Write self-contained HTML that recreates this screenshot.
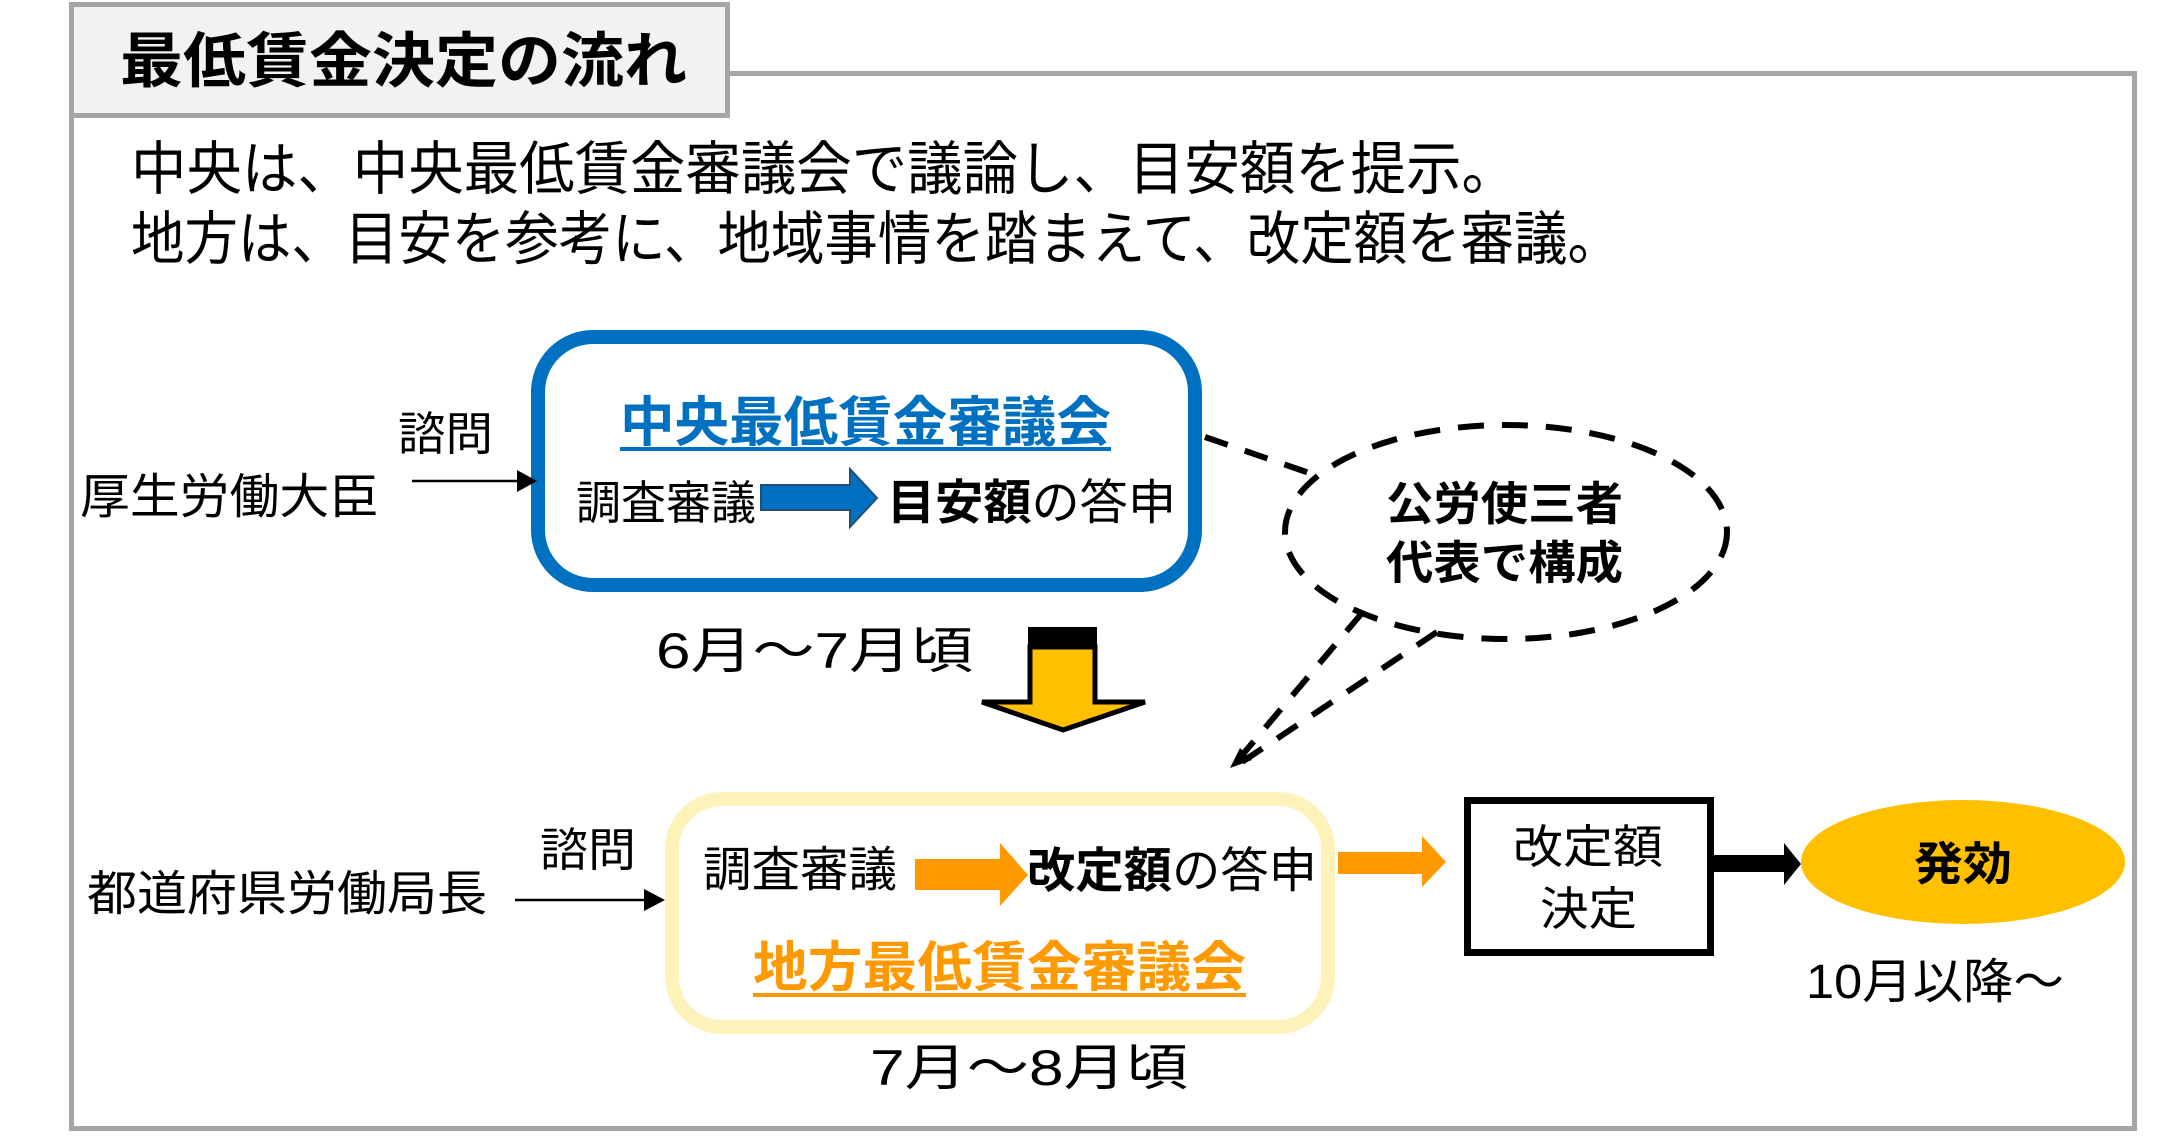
<!DOCTYPE html>
<html><head><meta charset="utf-8"><style>
html,body{margin:0;padding:0;background:#fff;}
svg{display:block;}
text{font-family:"Liberation Sans","Noto Sans CJK JP",sans-serif;}
</style></head><body>
<svg width="2180" height="1145" viewBox="0 0 2180 1145" xmlns="http://www.w3.org/2000/svg">
<rect x="0" y="0" width="2180" height="1145" fill="#fff"/>
<rect x="71.5" y="73.5" width="2063" height="1055" fill="none" stroke="#A6A6A6" stroke-width="5"/>
<rect x="71.5" y="4.5" width="656" height="111" fill="#F2F2F2" stroke="#A6A6A6" stroke-width="5"/>
<text x="120" y="82" font-size="60" font-weight="bold" textLength="567" lengthAdjust="spacingAndGlyphs">最低賃金決定の流れ</text>

<text x="131" y="189" font-size="58" textLength="1386" lengthAdjust="spacingAndGlyphs">中央は、中央最低賃金審議会で議論し、目安額を提示。</text>
<text x="131" y="259" font-size="58" textLength="1490" lengthAdjust="spacingAndGlyphs">地方は、目安を参考に、地域事情を踏まえて、改定額を審議。</text>

<rect x="538" y="337" width="657" height="248" rx="55" fill="#fff" stroke="#0070C0" stroke-width="14"/>
<text x="620" y="441" font-size="54" font-weight="bold" fill="#0070C0" textLength="491" lengthAdjust="spacingAndGlyphs">中央最低賃金審議会</text>
<rect x="620" y="447" width="491" height="4" fill="#0070C0"/>
<text x="576" y="519" font-size="46" textLength="180" lengthAdjust="spacingAndGlyphs">調査審議</text>
<polygon points="761,485 850,485 850,469 877,498 850,527 850,510 761,510" fill="#0070C0" stroke="#1F4E79" stroke-width="2"/>
<text x="887" y="519" font-size="48" textLength="289" lengthAdjust="spacingAndGlyphs"><tspan font-weight="bold">目安額</tspan>の答申</text>

<text x="398" y="450" font-size="46" textLength="95" lengthAdjust="spacingAndGlyphs">諮問</text>
<text x="80" y="513" font-size="48" textLength="299" lengthAdjust="spacingAndGlyphs">厚生労働大臣</text>
<line x1="412" y1="481" x2="520" y2="481" stroke="#000" stroke-width="2.5"/>
<polygon points="517,470 537,481 517,492" fill="#000"/>

<text x="656" y="668" font-size="50" textLength="317" lengthAdjust="spacingAndGlyphs">6月～7月頃</text>
<rect x="1028" y="627" width="69" height="22" fill="#000"/>
<polygon points="1030,647 1095,647 1095,702 1145,702 1063,730 982,702 1030,702" fill="#FFC000" stroke="#000" stroke-width="5"/>

<ellipse cx="1506" cy="532" rx="221" ry="107" fill="#fff" stroke="#000" stroke-width="6" stroke-dasharray="26,18"/>
<line x1="1205" y1="437" x2="1318" y2="476" stroke="#000" stroke-width="6" stroke-dasharray="24,18"/>
<line x1="1362" y1="613" x2="1238" y2="760" stroke="#000" stroke-width="6" stroke-dasharray="24,18"/>
<line x1="1437" y1="632" x2="1242" y2="762" stroke="#000" stroke-width="6" stroke-dasharray="24,18"/>
<polygon points="1230,768 1240,748 1252,760" fill="#000"/>
<text x="1386" y="520" font-size="46" font-weight="bold" textLength="237" lengthAdjust="spacingAndGlyphs">公労使三者</text>
<text x="1386" y="579" font-size="46" font-weight="bold" textLength="237" lengthAdjust="spacingAndGlyphs">代表で構成</text>

<rect x="672" y="799" width="656" height="228" rx="50" fill="#fff" stroke="#FEF2BB" stroke-width="14"/>
<text x="703" y="886" font-size="48" textLength="194" lengthAdjust="spacingAndGlyphs">調査審議</text>
<polygon points="915,859 1000,859 1000,843 1028,875 1000,906 1000,890 915,890" fill="#FF9900"/>
<text x="1027" y="887" font-size="48" textLength="290" lengthAdjust="spacingAndGlyphs"><tspan font-weight="bold">改定額</tspan>の答申</text>
<text x="753" y="986" font-size="54" font-weight="bold" fill="#FF9900" textLength="493" lengthAdjust="spacingAndGlyphs">地方最低賃金審議会</text>
<rect x="753" y="993" width="493" height="4" fill="#FF9900"/>

<text x="540" y="866" font-size="46" textLength="96" lengthAdjust="spacingAndGlyphs">諮問</text>
<text x="87" y="910" font-size="48" textLength="400" lengthAdjust="spacingAndGlyphs">都道府県労働局長</text>
<line x1="515" y1="900" x2="648" y2="900" stroke="#000" stroke-width="2.5"/>
<polygon points="644,889 665,900 644,911" fill="#000"/>

<text x="870" y="1085" font-size="50" textLength="318" lengthAdjust="spacingAndGlyphs">7月～8月頃</text>

<polygon points="1338,852 1422,852 1422,836 1446,862 1422,887 1422,874 1338,874" fill="#FF9900"/>
<rect x="1467.5" y="800.5" width="243" height="152" fill="#fff" stroke="#000" stroke-width="7"/>
<text x="1513" y="863" font-size="46" textLength="150" lengthAdjust="spacingAndGlyphs">改定額</text>
<text x="1540" y="925" font-size="46" textLength="97" lengthAdjust="spacingAndGlyphs">決定</text>
<polygon points="1714,855 1784,855 1784,843 1801,864 1784,885 1784,872 1714,872" fill="#000"/>
<ellipse cx="1963" cy="862" rx="162" ry="62" fill="#FFC000"/>
<text x="1914" y="880" font-size="46" font-weight="bold" textLength="98" lengthAdjust="spacingAndGlyphs">発効</text>
<text x="1806" y="998" font-size="48" textLength="258" lengthAdjust="spacingAndGlyphs">10月以降～</text>
</svg>
</body></html>
